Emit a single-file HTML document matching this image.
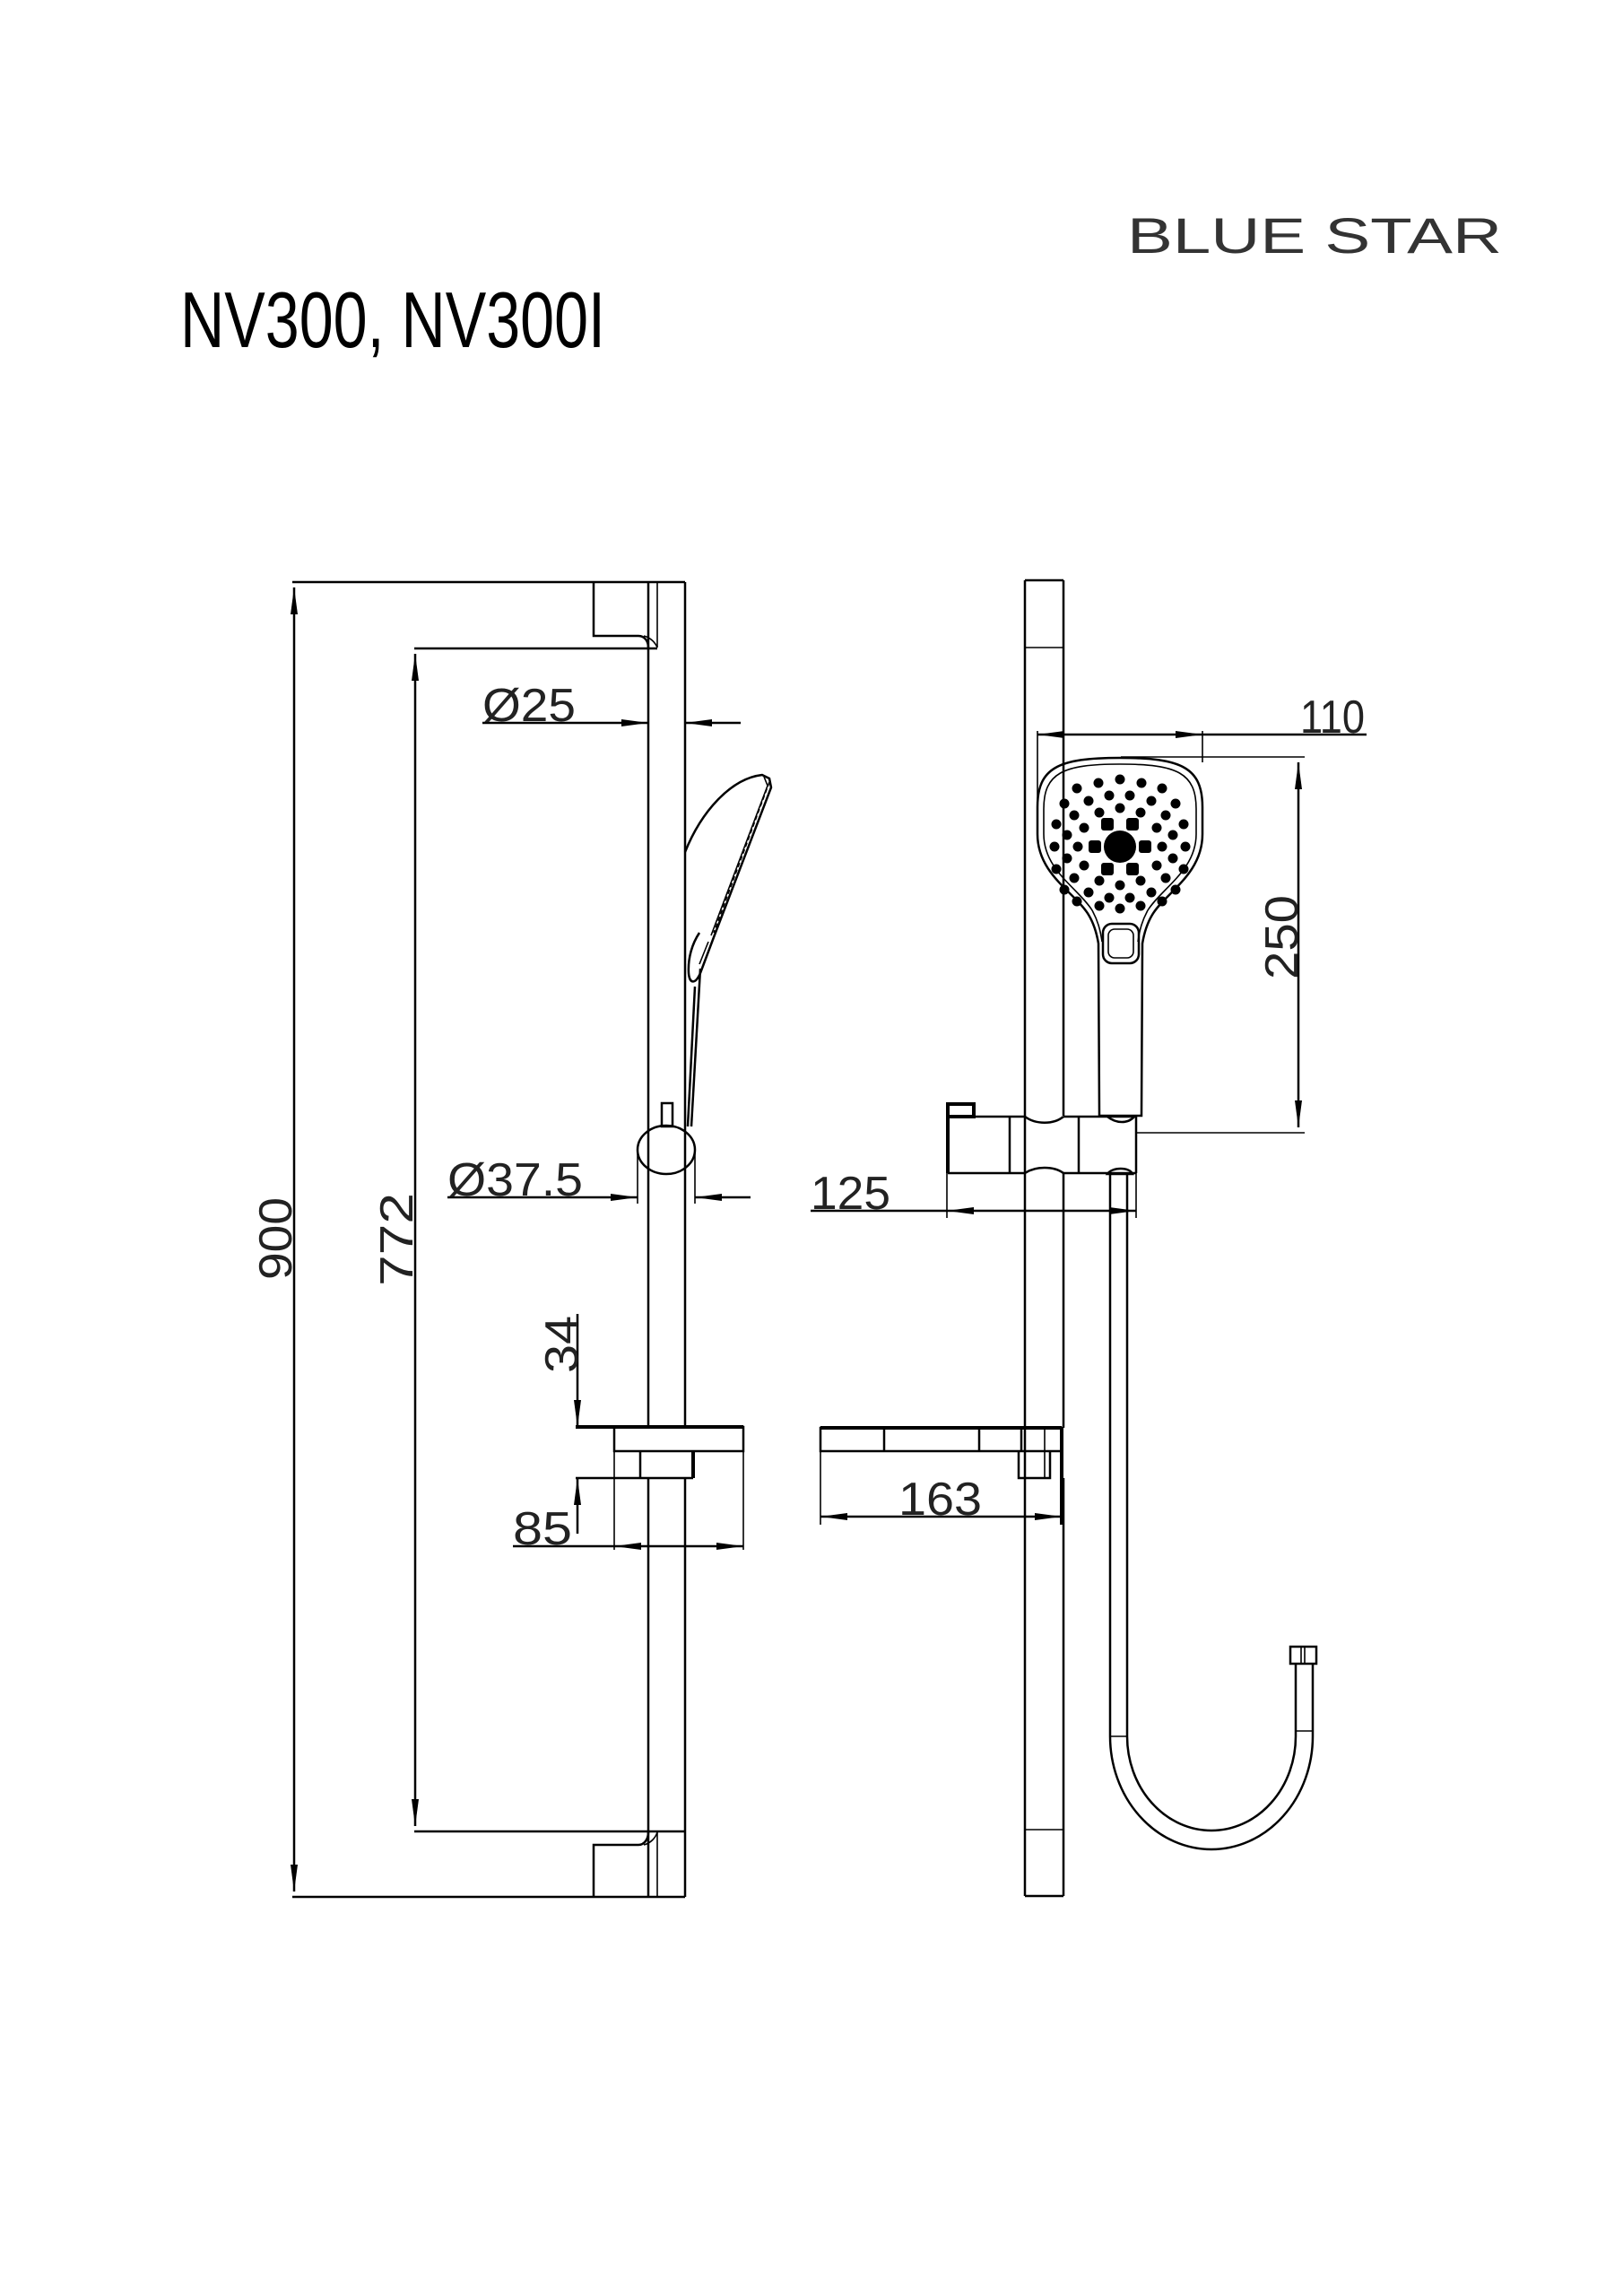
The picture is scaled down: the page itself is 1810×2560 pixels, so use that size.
<!DOCTYPE html>
<html><head><meta charset="utf-8"><style>
html,body{margin:0;padding:0;background:#fff;}
svg{display:block;}
.l{stroke:#000;stroke-width:2.5;fill:none;}
.t{stroke:#000;stroke-width:1.6;fill:none;}
.k{stroke:#000;stroke-width:4;fill:none;}
.d{font-family:"Liberation Sans",sans-serif;font-size:52px;fill:#222;font-weight:normal;}
</style></head><body>
<svg width="1810" height="2560" viewBox="0 0 1810 2560" xmlns="http://www.w3.org/2000/svg">
<defs>
<marker id="a" viewBox="0 0 30 8" refX="30" refY="4" markerWidth="30" markerHeight="8" markerUnits="userSpaceOnUse" orient="auto-start-reverse"><path d="M0,0 L30,4 L0,8 Z" fill="#000"/></marker>
</defs>
<rect width="1810" height="2560" fill="#fff"/>
<text x="1257" y="282" font-family="Liberation Sans,sans-serif" font-size="56" fill="#333" textLength="418" lengthAdjust="spacingAndGlyphs">BLUE STAR</text>
<text x="201" y="387" font-family="Liberation Sans,sans-serif" font-size="88" fill="#000" textLength="474" lengthAdjust="spacingAndGlyphs">NV300, NV300I</text>

<!-- LEFT VIEW -->
<line class="l" x1="326" y1="649" x2="764" y2="649"/>
<line class="l" x1="326" y1="2115" x2="764" y2="2115"/>
<line class="l" x1="462" y1="723" x2="733" y2="723"/>
<line class="l" x1="462" y1="2042" x2="764" y2="2042"/>
<line class="l" x1="328" y1="655" x2="328" y2="2109" marker-start="url(#a)" marker-end="url(#a)"/>
<line class="l" x1="463" y1="729" x2="463" y2="2036" marker-start="url(#a)" marker-end="url(#a)"/>
<text class="d" transform="translate(325,1427) rotate(-90)" textLength="92" lengthAdjust="spacingAndGlyphs">900</text>
<text class="d" transform="translate(460,1434) rotate(-90)" textLength="104" lengthAdjust="spacingAndGlyphs">772</text>
<line class="l" x1="723" y1="649" x2="723" y2="1591"/>
<line class="l" x1="723" y1="1648" x2="723" y2="2115"/>
<line class="l" x1="764" y1="649" x2="764" y2="1591"/>
<line class="l" x1="764" y1="1648" x2="764" y2="2115"/>
<line class="t" x1="733" y1="649" x2="733" y2="722"/>
<line class="t" x1="733" y1="2042" x2="733" y2="2115"/>
<path class="l" d="M662,649 L662,709 L712,709 C719,709 723,715 723,722"/>
<path class="t" d="M718,709 C726,711 731,717 733,722"/>
<path class="l" d="M662,2115 L662,2057 L712,2057 C719,2057 723,2050 723,2043"/>
<path class="t" d="M718,2057 C726,2055 731,2049 733,2043"/>
<line class="l" x1="538" y1="806" x2="723" y2="806" marker-end="url(#a)"/>
<line class="l" x1="826" y1="806" x2="764" y2="806" marker-end="url(#a)"/>
<text class="d" x="538" y="804" textLength="104" lengthAdjust="spacingAndGlyphs">Ø25</text>
<path class="l" d="M764,950 C782,905 815,868 850,864 L858,868 L860,878 L796,1045 L781,1085 C776,1097 769,1098 768,1085 C767,1068 772,1052 780,1040"/>
<path class="t" d="M852,866 L856,876 L793,1043"/>
<path class="t" d="M858,872 L796,1040" stroke-dasharray="5,3" stroke-width="5"/>
<path class="l" d="M781,1080 L771,1256"/>
<path class="l" d="M775,1100 L767,1256"/>
<path class="t" d="M790,1050 L780,1075"/>
<rect class="l" x="738" y="1230" width="12" height="26"/>
<ellipse class="l" cx="743" cy="1282" rx="32" ry="27" fill="#fff"/>
<line class="t" x1="711" y1="1280" x2="711" y2="1342"/>
<line class="t" x1="775" y1="1280" x2="775" y2="1342"/>
<line class="l" x1="499" y1="1335" x2="711" y2="1335" marker-end="url(#a)"/>
<line class="l" x1="837" y1="1335" x2="775" y2="1335" marker-end="url(#a)"/>
<text class="d" x="499" y="1333" textLength="151" lengthAdjust="spacingAndGlyphs">Ø37.5</text>
<line class="k" x1="642" y1="1591" x2="829" y2="1591"/>
<rect class="l" x="685" y="1591" width="144" height="27"/>
<line class="l" x1="642" y1="1648" x2="773" y2="1648"/>
<line class="l" x1="714" y1="1618" x2="714" y2="1648"/>
<line class="k" x1="773" y1="1618" x2="773" y2="1648"/>
<line class="t" x1="685" y1="1618" x2="685" y2="1728"/>
<line class="t" x1="829" y1="1618" x2="829" y2="1728"/>
<line class="l" x1="644" y1="1465" x2="644" y2="1591" marker-end="url(#a)"/>
<line class="l" x1="644" y1="1710" x2="644" y2="1648" marker-end="url(#a)"/>
<text class="d" transform="translate(644,1531) rotate(-90)" textLength="64" lengthAdjust="spacingAndGlyphs">34</text>
<line class="l" x1="572" y1="1724" x2="685" y2="1724"/>
<line class="l" x1="757" y1="1724" x2="685" y2="1724" marker-end="url(#a)"/>
<line class="l" x1="757" y1="1724" x2="829" y2="1724" marker-end="url(#a)"/>
<text class="d" x="572" y="1722" textLength="66" lengthAdjust="spacingAndGlyphs">85</text>

<!-- RIGHT VIEW -->
<line class="l" x1="1143" y1="647" x2="1143" y2="2114"/>
<line class="l" x1="1186" y1="647" x2="1186" y2="1244"/>
<line class="l" x1="1186" y1="1308" x2="1186" y2="1592"/>
<line class="l" x1="1186" y1="1648" x2="1186" y2="2114"/>
<line class="l" x1="1143" y1="647" x2="1186" y2="647"/>
<line class="l" x1="1143" y1="2114" x2="1186" y2="2114"/>
<line class="t" x1="1143" y1="722" x2="1186" y2="722"/>
<line class="t" x1="1143" y1="2040" x2="1186" y2="2040"/>
<line class="t" x1="1157" y1="815" x2="1157" y2="916"/>
<line class="t" x1="1341" y1="815" x2="1341" y2="850"/>
<line class="l" x1="1186" y1="819" x2="1157" y2="819" marker-end="url(#a)"/>
<line class="l" x1="1186" y1="819" x2="1341" y2="819" marker-end="url(#a)"/>
<line class="l" x1="1341" y1="819" x2="1524" y2="819"/>
<text class="d" x="1450" y="817" textLength="72" lengthAdjust="spacingAndGlyphs">110</text>
<line class="t" x1="1250" y1="844" x2="1455" y2="844"/>
<line class="t" x1="1267" y1="1263" x2="1455" y2="1263"/>
<line class="l" x1="1448" y1="850" x2="1448" y2="1257" marker-start="url(#a)" marker-end="url(#a)"/>
<text class="d" transform="translate(1447,1092) rotate(-90)" textLength="94" lengthAdjust="spacingAndGlyphs">250</text>
<path class="l" fill="#fff" d="M1157,900 C1157,856 1180,845 1249,845 C1318,845 1341,856 1341,900 L1341,930 C1341,975 1300,995 1285,1020 C1279,1030 1276,1040 1274,1052 L1273,1244 L1226,1244 L1225,1052 C1223,1040 1220,1030 1214,1020 C1199,995 1157,975 1157,930 Z"/>
<path class="t" d="M1164,902 C1164,862 1185,852 1249,852 C1313,852 1334,862 1334,902 L1334,930 C1334,970 1296,990 1280,1015 C1274,1026 1271,1036 1269,1050 M1164,902 L1164,930 C1164,970 1202,990 1218,1015 C1224,1026 1227,1036 1229,1050"/>
<rect class="l" x="1230" y="1030" width="40" height="44" rx="10"/>
<rect class="t" x="1236" y="1036" width="28" height="32" rx="7"/>
<g fill="#000">
<circle cx="1249" cy="944" r="18"/>
<rect x="1228" y="912" width="14" height="14" rx="3"/><rect x="1256" y="912" width="14" height="14" rx="3"/>
<rect x="1214" y="937" width="14" height="14" rx="3"/><rect x="1270" y="937" width="14" height="14" rx="3"/>
<rect x="1228" y="962" width="14" height="14" rx="3"/><rect x="1256" y="962" width="14" height="14" rx="3"/>
<g>
<circle cx="1237" cy="887" r="5.5"/><circle cx="1260" cy="887" r="5.5"/><circle cx="1214" cy="893" r="5.5"/><circle cx="1284" cy="893" r="5.5"/>
<circle cx="1225" cy="873" r="5.5"/><circle cx="1273" cy="873" r="5.5"/><circle cx="1201" cy="879" r="5.5"/><circle cx="1296" cy="879" r="5.5"/>
<circle cx="1187" cy="896" r="5.5"/><circle cx="1311" cy="896" r="5.5"/><circle cx="1178" cy="919" r="5.5"/><circle cx="1320" cy="919" r="5.5"/>
<circle cx="1190" cy="931" r="5.5"/><circle cx="1308" cy="931" r="5.5"/><circle cx="1198" cy="909" r="5.5"/><circle cx="1300" cy="909" r="5.5"/>
<circle cx="1226" cy="906" r="5.5"/><circle cx="1272" cy="906" r="5.5"/><circle cx="1249" cy="901" r="5.5"/><circle cx="1209" cy="923" r="5.5"/>
<circle cx="1290" cy="923" r="5.5"/><circle cx="1249" cy="869" r="5.5"/>
<circle cx="1176" cy="944" r="5.5"/><circle cx="1322" cy="944" r="5.5"/><circle cx="1202" cy="944" r="5.5"/><circle cx="1296" cy="944" r="5.5"/>
<circle cx="1237" cy="1001" r="5.5"/><circle cx="1260" cy="1001" r="5.5"/><circle cx="1214" cy="995" r="5.5"/><circle cx="1284" cy="995" r="5.5"/>
<circle cx="1226" cy="1010" r="5.5"/><circle cx="1272" cy="1010" r="5.5"/><circle cx="1249" cy="1013" r="5.5"/>
<circle cx="1201" cy="1005" r="5.5"/><circle cx="1296" cy="1005" r="5.5"/>
<circle cx="1187" cy="992" r="5.5"/><circle cx="1311" cy="992" r="5.5"/><circle cx="1178" cy="969" r="5.5"/><circle cx="1320" cy="969" r="5.5"/>
<circle cx="1190" cy="957" r="5.5"/><circle cx="1308" cy="957" r="5.5"/><circle cx="1198" cy="979" r="5.5"/><circle cx="1300" cy="979" r="5.5"/>
<circle cx="1226" cy="982" r="5.5"/><circle cx="1272" cy="982" r="5.5"/><circle cx="1249" cy="987" r="5.5"/><circle cx="1209" cy="965" r="5.5"/><circle cx="1290" cy="965" r="5.5"/>
</g></g>
<rect x="1057" y="1231" width="29" height="14" class="k"/>
<line class="k" x1="1057" y1="1231" x2="1057" y2="1308"/>
<line class="l" x1="1057" y1="1245" x2="1143" y2="1245"/>
<line class="l" x1="1186" y1="1245" x2="1267" y2="1245"/>
<line class="l" x1="1267" y1="1245" x2="1267" y2="1308"/>
<line class="l" x1="1057" y1="1308" x2="1143" y2="1308"/>
<line class="l" x1="1186" y1="1308" x2="1267" y2="1308"/>
<path class="l" d="M1143,1245 C1155,1254 1175,1254 1186,1245"/>
<path class="l" d="M1143,1308 C1155,1300 1175,1300 1186,1308"/>
<path class="l" d="M1235,1245 C1245,1253 1258,1253 1265,1245"/>
<line class="l" x1="1126" y1="1245" x2="1126" y2="1308"/>
<line class="l" x1="1203" y1="1245" x2="1203" y2="1308"/>
<path class="l" d="M1235,1309 C1240,1301 1260,1301 1263,1309 Z"/>
<line class="t" x1="1056" y1="1308" x2="1056" y2="1358"/>
<line class="t" x1="1267" y1="1308" x2="1267" y2="1358"/>
<line class="l" x1="904" y1="1350" x2="1056" y2="1350"/>
<line class="l" x1="1160" y1="1350" x2="1056" y2="1350" marker-end="url(#a)"/>
<line class="l" x1="1160" y1="1350" x2="1267" y2="1350" marker-end="url(#a)"/>
<text class="d" x="904" y="1348" textLength="89" lengthAdjust="spacingAndGlyphs">125</text>
<path class="l" d="M1238,1309 L1238,1936 A113,126 0 0 0 1464,1936 L1464,1855"/>
<path class="l" d="M1257,1309 L1257,1936 A94,105 0 0 0 1445,1936 L1445,1855"/>
<line class="t" x1="1238" y1="1936" x2="1257" y2="1936"/>
<line class="t" x1="1445" y1="1930" x2="1464" y2="1930"/>
<rect class="l" x="1439" y="1836" width="29" height="19"/>
<line class="t" x1="1451" y1="1836" x2="1451" y2="1855"/><line class="t" x1="1455" y1="1836" x2="1455" y2="1855"/>
<rect class="l" x="915" y="1592" width="269" height="26" fill="#fff"/>
<line class="k" x1="915" y1="1592" x2="1184" y2="1592"/>
<line class="l" x1="986" y1="1592" x2="986" y2="1618"/>
<line class="l" x1="1092" y1="1592" x2="1092" y2="1618"/>
<line class="l" x1="1139" y1="1592" x2="1139" y2="1618"/>
<path class="l" d="M1136,1618 L1136,1648 L1171,1648 L1171,1618" fill="#fff"/>
<line class="t" x1="1165" y1="1592" x2="1165" y2="1648"/>
<line class="k" x1="1184" y1="1592" x2="1184" y2="1700"/>
<line class="t" x1="1143" y1="1618" x2="1143" y2="1648"/>
<line class="t" x1="915" y1="1618" x2="915" y2="1700"/>
<line class="l" x1="1050" y1="1691" x2="915" y2="1691" marker-end="url(#a)"/>
<line class="l" x1="1050" y1="1691" x2="1184" y2="1691" marker-end="url(#a)"/>
<text class="d" x="1002" y="1689" textLength="93" lengthAdjust="spacingAndGlyphs">163</text>
</svg>
</body></html>
